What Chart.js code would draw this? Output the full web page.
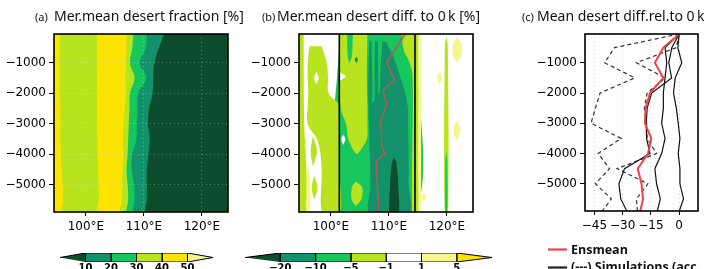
<!DOCTYPE html>
<html>
<head>
<meta charset="utf-8">
<script src="https://cdn.jsdelivr.net/npm/chart.js@4.4.1/dist/chart.umd.min.js"></script>
<style>
  html, body { margin: 0; padding: 0; background: #fff; width: 704px; height: 269px; overflow: hidden; }
  canvas { position: absolute; }
</style>
</head>
<body>
<canvas id="panelA" width="245" height="240" style="left:0;top:0"></canvas>
<canvas id="panelB" width="245" height="240" style="left:245px;top:0"></canvas>
<canvas id="panelC" width="214" height="269" style="left:490px;top:0"></canvas>
<canvas id="barA" width="245" height="29" style="left:0;top:240px"></canvas>
<canvas id="barB" width="260" height="29" style="left:240px;top:240px"></canvas>
<script>
// axes
const yMin = -5900, yMax = -50;
const lonMin = 94.5, lonMax = 124.5;
const timeTicks = [-5000, -4000, -3000, -2000, -1000];
const lonTicks = [100, 110, 120];
const diffTicks = [-45, -30, -15, 0];

// (a) desert fraction: contour edges (lon) at each year, west to east
const aYears       = [0, -500, -1000, -1500, -2000, -2500, -3000, -3500, -4000, -4500, -5000, -5500, -6000];
const aYellowToLG  = [95.5, 95.5, 95.5, 95.5, 95.5, 95.6, 95.6, 95.6, 95.7, 95.8, 96.0, 96.1, 96.1];
const aLGToYellow  = [101.9, 101.9, 101.9, 101.9, 101.9, 101.9, 101.9, 102.0, 102.0, 102.1, 102.2, 102.2, 102.2];
const aYellowToLG2 = [107.0, 107.0, 106.9, 106.8, 106.9, 106.7, 106.5, 106.4, 106.4, 106.3, 106.2, 106.2, 106.2];
const aLGToGreen   = [108.2, 108.0, 107.6, 108.4, 107.6, 107.5, 107.4, 107.3, 107.2, 107.0, 107.2, 107.3, 107.3];
const aGreenToTeal = [110.5, 110.3, 109.3, 110.4, 109.0, 108.9, 108.8, 108.7, 108.0, 107.9, 108.3, 108.4, 108.4];
const aTealToDark  = [113.6, 112.6, 111.8, 111.6, 111.5, 110.9, 110.7, 111.0, 110.8, 110.5, 110.5, 110.5, 110.5];
const aLevels = [10, 20, 30, 40, 50];

// (b) desert difference: patches per class, rows of [year, west lon, east lon]
const bGreenBase = [
  [[0, 101.45, 114.5], [-6000, 101.45, 114.5]]
];
const bLightGreen = [
  [[0, 94.5, 95.3], [-3000, 94.5, 95.4], [-4500, 94.5, 95.8], [-6000, 94.5, 95.8]],
  [[-450, 96.3, 98.4], [-1000, 96.0, 99.3], [-1500, 96.0, 99.5], [-2000, 96.1, 99.6], [-2400, 96.0, 101.45],
   [-3000, 96.0, 101.45], [-3600, 97.8, 101.45], [-4500, 98.4, 101.45], [-6000, 98.6, 101.45]],
  [[-3400, 96.9, 96.9], [-3900, 96.5, 97.6], [-4400, 96.9, 96.9]],
  [[-4700, 97.1, 97.1], [-5100, 96.7, 97.7], [-5500, 97.1, 97.1]],
  [[0, 101.45, 106.3], [-1500, 101.45, 106.2], [-2500, 101.7, 106.3], [-3000, 102.6, 106.3], [-3500, 103.0, 106.2],
   [-3900, 104.0, 105.0], [-4000, 104.5, 104.5]],
  [[-4900, 104.3, 104.3], [-5100, 103.6, 105.4], [-5500, 103.6, 105.2], [-5700, 104.3, 104.3]],
  [[0, 112.2, 114.5], [-600, 112.6, 114.5], [-1000, 113.6, 114.5], [-1500, 114.1, 114.5], [-6000, 114.0, 114.5]],
  [[0, 114.5, 115.1], [-6000, 114.5, 115.1]],
  [[-150, 119.9, 119.9], [-400, 119.65, 120.15], [-6000, 119.6, 120.2]]
];
const bGreen = [
  [[0, 102.8, 103.8], [-800, 102.9, 103.6], [-1000, 103.2, 103.2]],
  [[-3900, 119.9, 119.9], [-4200, 119.75, 120.05], [-6000, 119.75, 120.05]]
];
const bTeal = [
  [[-300, 106.6, 107.0], [-2500, 106.5, 107.1]],
  [[-300, 107.6, 108.1], [-2500, 107.6, 108.1]],
  [[-800, 104.4, 104.4], [-900, 104.1, 104.7], [-1000, 104.4, 104.4]],
  [[-300, 108.9, 109.5], [-1000, 108.6, 111.2], [-1500, 108.5, 112.0], [-2000, 108.3, 112.8], [-2500, 106.6, 113.3],
   [-3000, 106.6, 113.3], [-4000, 106.7, 113.4], [-5000, 106.8, 113.4], [-6000, 106.8, 113.4]]
];
const bDark = [
  [[-4100, 110.9, 110.9], [-4300, 110.5, 111.3], [-5000, 110.2, 111.6], [-6000, 110.2, 111.6]]
];
const bWhite = [
  [[-1300, 97.5, 97.5], [-1500, 97.1, 97.9], [-1700, 97.5, 97.5]],
  [[-1300, 101.45, 101.45], [-1450, 101.45, 102.5], [-1600, 101.45, 101.45]],
  [[-3350, 102.1, 102.1], [-3500, 101.8, 102.5], [-3700, 102.1, 102.1]]
];
const bPaleYellow = [
  [[0, 115.1, 115.5], [-6000, 115.1, 115.5]],
  [[-150, 121.7, 121.7], [-400, 121.0, 122.6], [-800, 121.1, 122.4], [-1000, 121.8, 121.8]],
  [[-1300, 118.7, 118.7], [-1500, 118.3, 119.2], [-1700, 118.7, 118.7]],
  [[-2900, 121.7, 121.7], [-3100, 121.2, 122.3], [-3400, 121.3, 122.1], [-3550, 121.7, 121.7]],
  [[-5300, 116.0, 116.0], [-5400, 115.5, 116.5], [-5550, 116.0, 116.0]],
  [[-4300, 95.8, 95.8], [-4800, 95.8, 96.4], [-6000, 95.8, 96.3]]
];
const bRegionEdges = [101.45, 114.5];
const bRedYears = [-50, -1000, -1550, -1900, -2400, -2900, -3750, -3970, -4250, -5070, -5900];
const bRedLon   = [112.8, 109.6, 111.0, 109.0, 109.6, 108.6, 108.8, 109.3, 107.8, 108.0, 108.3];
const bLevels = [-20, -10, -5, -1, 1, 5];

// (c) mean desert difference relative to 0 k
const cYears    = [-50, -500, -1000, -1500, -2000, -2500, -3000, -3500, -4000, -4500, -5000, -5500, -6000];
const cEnsmean  = [0, -8.4, -12.9, -8.4, -15.5, -17.8, -18.2, -14.8, -16.5, -22.0, -20.0, -19.2, -21.0];
const cDashedA  = [0, -34.3, -39.6, -23.6, -42.0, -44.5, -46.8, -30.8, -43.0, -37.0, -44.5, -36.0, -42.0];
const cDashedB  = [0, -1.5, -22.7, -7.5, -17.0, -18.5, -17.5, -17.0, -12.0, -33.0, -16.6, -22.7, -22.0];
const cSimA     = [0, -0.7, 1.4, -2.1, -3.0, -1.5, -0.5, 0.4, -0.5, 0.4, 0.4, 2.3, -0.5];
const cSimB     = [0, -7.5, -6.6, -7.5, -8.4, -8.4, -9.3, -7.5, -9.3, -12.9, -12.0, -10.0, -12.0];
const cSimC     = [0, -3.9, -5.5, -4.0, -14.6, -17.0, -17.5, -17.3, -15.5, -29.0, -32.0, -31.0, -27.0];

// colours
const DARK = '#0b4d2c', TEAL = '#12926a', GREEN = '#17c65c', LGREEN = '#b7e31f',
      YELLOW = '#fde400', PALE = '#f7f68e', WHITE = '#ffffff';

Chart.defaults.font.family = 'DejaVu Sans';
Chart.defaults.font.size = 12;
Chart.defaults.color = '#000';
Chart.defaults.animation = false;
Chart.defaults.responsive = false;
Chart.defaults.plugins.legend.display = false;
Chart.defaults.plugins.tooltip.enabled = false;
Chart.defaults.elements.point.radius = 0;

const fmt = v => (v < 0 ? '\u2212' + Math.abs(v) : String(v));

// box round the plot area
const frame = {
  id: 'frame',
  afterDraw(chart) {
    const {ctx, chartArea: a} = chart;
    ctx.save();
    ctx.lineWidth = 1.6;
    ctx.strokeStyle = '#000';
    ctx.strokeRect(a.left, a.top, a.width, a.height);
    ctx.restore();
  }
};

// panel title with small tag
const titles = {
  id: 'titles',
  afterDraw(chart, args, opts) {
    if (!opts.text) return;
    const ctx = chart.ctx;
    ctx.save();
    ctx.fillStyle = '#111';
    ctx.font = '11px "Noto Sans"';
    ctx.fillText(opts.tag, opts.x0, 21);
    ctx.font = '14px "Noto Sans"';
    ctx.fillText(opts.text, opts.x1, 21);
    ctx.restore();
  }
};

function patchPoints(rows) {
  const clamp = v => Math.max(lonMin, Math.min(lonMax, v));
  const west = rows.map(r => ({x: clamp(r[1]), y: r[0]}));
  const east = rows.map(r => ({x: clamp(r[2]), y: r[0]}));
  return east.concat(west.reverse());
}

function patch(rows, color) {
  return {
    data: patchPoints(rows), fill: 'shape', backgroundColor: color,
    borderWidth: 0, tension: 0.35, pointRadius: 0
  };
}

function yAxis(width) {
  return {
    type: 'linear', min: yMin, max: yMax,
    afterBuildTicks: s => { s.ticks = timeTicks.map(v => ({value: v})); },
    afterFit: s => { s.width = width; },
    ticks: {callback: v => fmt(v), padding: 3, autoSkip: false},
    grid: {drawOnChartArea: false, tickLength: 5, tickColor: '#000', z: 1},
    border: {display: false}
  };
}

function lonAxis(gridColor) {
  return {
    type: 'linear', min: lonMin, max: lonMax,
    afterBuildTicks: s => { s.ticks = lonTicks.map(v => ({value: v})); },
    afterFit: s => { s.height = 28; },
    ticks: {callback: v => v + '\u00b0E', padding: 4, maxRotation: 0, autoSkip: false},
    grid: {drawOnChartArea: !!gridColor, color: gridColor || 'rgba(0,0,0,0)', tickLength: 4, tickColor: '#000', z: 1},
    border: {display: false, dash: [1, 3]}
  };
}

function layered(list) {
  list.forEach((d, i) => { d.order = -i; });
  return list;
}

// ---------- panel (a)
const aEdges = [aYellowToLG, aLGToYellow, aYellowToLG2, aLGToGreen, aGreenToTeal, aTealToDark];
const aColors = [LGREEN, YELLOW, LGREEN, GREEN, TEAL, DARK];
const aSets = [patch([[aYears[0], lonMin, lonMax], [aYears[aYears.length - 1], lonMin, lonMax]], YELLOW)];
aEdges.forEach((edge, k) => {
  aSets.push(patch(aYears.map((t, i) => [t, edge[i], lonMax]), aColors[k]));
});

const aY = yAxis(54);
aY.grid.drawOnChartArea = true;
aY.grid.color = 'rgba(255,255,255,0.3)';
aY.border = {display: false, dash: [1, 3]};

new Chart(document.getElementById('panelA'), {
  type: 'line',
  data: {datasets: layered(aSets)},
  options: {
    layout: {padding: {left: 0, right: 17, top: 34, bottom: 0}},
    scales: {x: lonAxis('rgba(255,255,255,0.3)'), y: aY},
    plugins: {titles: {tag: '(a)', text: 'Mer.mean desert fraction [%]', x0: 35, x1: 54}}
  },
  plugins: [frame, titles]
});

// ---------- panel (b)
const bSets = [];
bGreenBase.forEach(r => bSets.push(patch(r, GREEN)));
bLightGreen.forEach(r => bSets.push(patch(r, LGREEN)));
bGreen.forEach(r => bSets.push(patch(r, GREEN)));
bTeal.forEach(r => bSets.push(patch(r, TEAL)));
bDark.forEach(r => bSets.push(patch(r, DARK)));
bWhite.forEach(r => bSets.push(patch(r, WHITE)));
bPaleYellow.forEach(r => bSets.push(patch(r, PALE)));
bRegionEdges.forEach(lon => bSets.push({
  data: [{x: lon, y: 0}, {x: lon, y: -6000}], borderColor: '#000', borderWidth: 1.6, fill: false
}));
bSets.push({
  data: bRedYears.map((t, i) => ({x: bRedLon[i], y: t})),
  borderColor: '#c2554e', borderWidth: 1.4, fill: false, tension: 0
});

new Chart(document.getElementById('panelB'), {
  type: 'line',
  data: {datasets: layered(bSets)},
  options: {
    layout: {padding: {left: 0, right: 17, top: 34, bottom: 0}},
    scales: {x: lonAxis(null), y: yAxis(54)},
    plugins: {titles: {tag: '(b)', text: 'Mer.mean desert diff. to 0\u2009k [%]', x0: 17, x1: 32}}
  },
  plugins: [frame, titles]
});

// ---------- panel (c)
const series = (vals, color, width, dash) => ({
  data: cYears.map((t, i) => ({x: vals[i], y: t})),
  borderColor: color, borderWidth: width, borderDash: dash || [], fill: false, tension: 0
});

const legendC = {
  id: 'legendC',
  afterDraw(chart) {
    const ctx = chart.ctx;
    ctx.save();
    ctx.lineWidth = 2.2;
    ctx.strokeStyle = '#ee4444';
    ctx.beginPath(); ctx.moveTo(58, 249.5); ctx.lineTo(77, 249.5); ctx.stroke();
    ctx.strokeStyle = '#222';
    ctx.beginPath(); ctx.moveTo(58, 267.5); ctx.lineTo(77, 267.5); ctx.stroke();
    ctx.fillStyle = '#111';
    ctx.font = 'bold 12.5px "Open Sans"';
    ctx.fillText('Ensmean', 81, 254.3);
    ctx.fillText('(---) Simulations (acc', 81, 271);
    ctx.restore();
  }
};

const cY = yAxis(95);
new Chart(document.getElementById('panelC'), {
  type: 'line',
  data: {
    datasets: [
      series(cDashedA, '#333', 1.2, [4, 3]),
      series(cDashedB, '#333', 1.2, [4, 3]),
      series(cSimA, '#111', 1.2),
      series(cSimB, '#111', 1.2),
      series(cSimC, '#111', 1.2),
      series(cEnsmean, '#ee4444', 2)
    ].reverse()
  },
  options: {
    layout: {padding: {left: 0, right: 6, top: 34, bottom: 30}},
    scales: {
      x: {
        type: 'linear', min: -50, max: 10,
        afterBuildTicks: s => { s.ticks = diffTicks.map(v => ({value: v})); },
        afterFit: s => { s.height = 28; },
        ticks: {callback: v => fmt(v), padding: 4, maxRotation: 0, autoSkip: false},
        grid: {color: '#d0d0d0', tickLength: 4, tickColor: '#000'},
        border: {display: false, dash: [1, 3]}
      },
      y: cY
    },
    plugins: {titles: {tag: '(c)', text: 'Mean desert diff.rel.to 0\u2009k [%]', x0: 32, x1: 47}}
  },
  plugins: [frame, titles, legendC]
});

// ---------- colour bars
function colorbar(id, levels, colors, pad) {
  const n = levels.length;
  const cell = (pts, color) => ({
    data: pts.map(p => ({x: p[0], y: p[1]})), fill: 'shape', backgroundColor: color,
    borderColor: '#000', borderWidth: 1, tension: 0
  });
  const sets = [cell([[-1, 0.5], [0, 1], [0, 0]], colors[0])];
  for (let i = 0; i < n - 1; i++) {
    sets.push(cell([[i, 0], [i + 1, 0], [i + 1, 1], [i, 1], [i, 0]], colors[i + 1]));
  }
  sets.push(cell([[n, 0.5], [n - 1, 1], [n - 1, 0], [n, 0.5]], colors[n]));
  new Chart(document.getElementById(id), {
    type: 'line',
    data: {datasets: sets},
    options: {
      layout: {padding: pad},
      scales: {
        x: {
          type: 'linear', min: -1, max: n,
          afterBuildTicks: s => { s.ticks = levels.map((v, i) => ({value: i})); },
          afterFit: s => { s.height = 7; },
          ticks: {callback: v => fmt(levels[v]), padding: 0, maxRotation: 0, autoSkip: false,
                  font: {size: 10, weight: 'bold'}},
          grid: {display: false, drawTicks: false},
          border: {display: false}
        },
        y: {type: 'linear', min: 0, max: 1, display: false}
      }
    }
  });
}

colorbar('barA', aLevels, [DARK, TEAL, GREEN, LGREEN, YELLOW, PALE], {left: 60, right: 32, top: 13, bottom: 0});
colorbar('barB', bLevels, [DARK, TEAL, GREEN, LGREEN, WHITE, PALE, YELLOW], {left: 5, right: 8, top: 13, bottom: 0});
</script>
</body>
</html>
